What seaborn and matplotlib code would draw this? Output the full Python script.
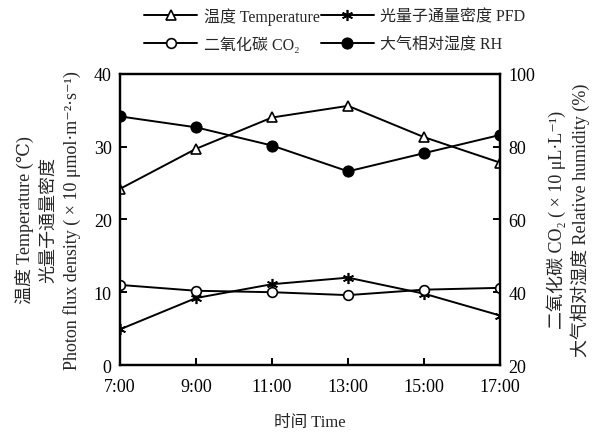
import pandas as pd
import numpy as np
import seaborn as sns
import matplotlib.pyplot as plt

times = ['7:00', '9:00', '11:00', '13:00', '15:00', '17:00']
temperature = [24.2, 29.7, 34.0, 35.6, 31.3, 27.8]
pfd = [4.9, 9.2, 11.1, 12.0, 9.8, 6.8]
co2 = [42.0, 40.4, 40.0, 39.2, 40.7, 41.2]
rh = [88.3, 85.3, 80.3, 73.2, 78.2, 83.2]

sns.set_style('ticks')
plt.rcParams['font.family'] = ['Liberation Serif', 'DejaVu Serif', 'Noto Sans CJK SC']
plt.rcParams['axes.unicode_minus'] = False

df = pd.DataFrame({'x': np.arange(len(times)), 'temp': temperature, 'pfd': pfd,
                   'co2': co2, 'rh': rh})

fig = plt.figure(figsize=(5.98, 4.35), dpi=100)
ax = fig.add_axes([0.2007, 0.1586, 0.6355, 0.6694])
ax2 = ax.twinx()

lw = 1.4
sns.lineplot(data=df, x='x', y='temp', ax=ax, color='black', lw=lw, marker='^',
             markersize=7, markerfacecolor='white', markeredgecolor='black', markeredgewidth=1.2)
sns.lineplot(data=df, x='x', y='pfd', ax=ax, color='black', lw=lw, marker=(6, 2, 0),
             markersize=8, markeredgecolor='black', markeredgewidth=1.2)
sns.lineplot(data=df, x='x', y='co2', ax=ax2, color='black', lw=lw, marker='o',
             markersize=7, markerfacecolor='white', markeredgecolor='black', markeredgewidth=1.2)
sns.lineplot(data=df, x='x', y='rh', ax=ax2, color='black', lw=lw, marker='o',
             markersize=8, markerfacecolor='black', markeredgecolor='black')

ax.set_xlim(0, len(times) - 1)
ax.set_ylim(0, 40)
ax2.set_ylim(20, 100)
ax.set_xticks(df['x'])
ax.set_xticklabels(times)
ax.set_yticks([0, 10, 20, 30, 40])
ax2.set_yticks([20, 40, 60, 80, 100])

for a in (ax, ax2):
    for s in a.spines.values():
        s.set_linewidth(1.6)
        s.set_color('black')
    a.tick_params(direction='in', length=5, width=1.4, labelsize=13, colors='black')
ax.tick_params(axis='x', pad=9)
ax.tick_params(axis='y', pad=6)
ax2.tick_params(axis='y', pad=6)

ax.set_xlabel('时间 Time', fontsize=12, labelpad=14)
ax.set_ylabel('温度 Temperature (℃)\n光量子通量密度\n'
              'Photon flux density ( × 10 μmol·m⁻²·s⁻¹)',
              fontsize=13, linespacing=1.45, labelpad=9)
ax2.set_ylabel('二氧化碳 CO₂ ( × 10 μL·L⁻¹)\n大气相对湿度 Relative humidity (%)',
               fontsize=13, linespacing=1.3, labelpad=8, rotation=90)

h = ax.get_lines() + ax2.get_lines()
handles = [h[0], h[2], h[1], h[3]]
labels = ['温度 Temperature', '二氧化碳 CO₂', '光量子通量密度 PFD', '大气相对湿度 RH']
fig.legend(handles, labels, loc='upper center', bbox_to_anchor=(0.56, 1.015), ncol=2,
           frameon=False, fontsize=11.5, handlelength=3.3, columnspacing=0.1,
           handletextpad=0.4, labelspacing=0.75)

fig.savefig('out.png', dpi=100)
